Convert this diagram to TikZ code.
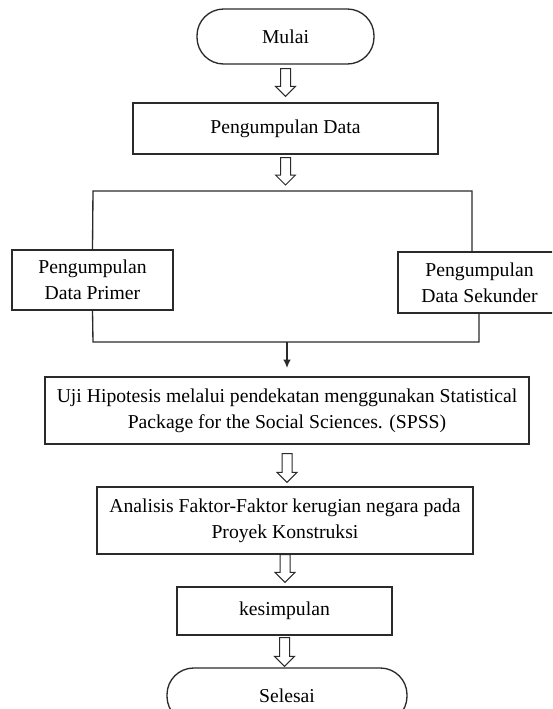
\documentclass[tikz,border=0pt]{standalone}
\usepackage{fontspec}
\setmainfont{Liberation Serif}
\usetikzlibrary{calc,arrows.meta}
\definecolor{linec}{HTML}{2A2A2A}
\newcommand\blockarrow[2]{\draw[blk] let \p1=(#1), \p2=(#2) in
  (\x1-3pt,\y1) -- (\x1+3pt,\y1) -- (\x1+3pt,\y2+6pt) -- (\x1+6pt,\y2+6pt) --
  (\x1,\y2) -- (\x1-6pt,\y2+6pt) -- (\x1-3pt,\y2+6pt) -- cycle;}
\begin{document}
\begin{tikzpicture}[x=0.6pt,y=-0.6pt,
  box/.style={draw=linec, line width=0.8pt, rectangle, align=center, inner sep=0pt,
    font=\fontsize{11.8}{15.6}\selectfont},
  term/.style={box, rounded corners=16pt},
  conn/.style={draw=linec, line width=0.8pt},
  blk/.style={draw=linec, line width=0.6pt, fill=white, line join=miter}]
\useasboundingbox (0,0) rectangle (552,709);
\fill[white] (0,0) rectangle (552,709);
\clip (0,0) rectangle (552,709);

\node[term, minimum width=106.2pt, minimum height=33pt] (mulai) at (285.5,36.5) {Mulai};
\node[box, minimum width=183pt, minimum height=30.6pt] (pd) at (285.5,128.5) {Pengumpulan Data};
\coordinate (tl) at (93,191);
\coordinate (tr) at (472,191);
\coordinate (tm) at (285.5,191);
\node[box, minimum width=96.6pt, minimum height=36pt] (prim) at (92.5,280) {Pengumpulan\\Data Primer};
\node[box, minimum width=106.2pt, minimum height=36.6pt] (sek) at (486.5,282.5)
  {Pengumpulan\hspace*{8.4pt}\\Data Sekunder\hspace*{8.4pt}};
\coordinate (bl) at (93,342);
\coordinate (br) at (479,342);
\coordinate (bm) at (287,342);
\node[box, minimum width=290.4pt, minimum height=40.2pt] (spss) at (287,410.5)
  {Uji Hipotesis melalui pendekatan menggunakan Statistical\\Package for the Social Sciences. (SPSS)};
\node[box, minimum width=225.6pt, minimum height=40.2pt] (ana) at (285,520.5)
  {Analisis Faktor-Faktor kerugian negara pada\\Proyek Konstruksi};
\node[box, minimum width=129pt, minimum height=28.8pt] (kes) at (284.5,611) {kesimpulan};
\node[term, minimum width=144pt, minimum height=33pt] (sel) at (287,695.5) {Selesai};

\draw[conn] (prim.north) -- (tl) -- (tr) -- (tr |- sek.north);
\draw[conn] (prim.south) -- (bl) -- (br) -- (br |- sek.south);
\draw[conn, -{Latex[length=5pt,width=4.5pt]}, shorten >=5pt] (bm) -- (bm |- spss.north);

\blockarrow{[yshift=-2.4pt]mulai.south}{[yshift=3.6pt]pd.north}
\blockarrow{[yshift=-1.8pt]pd.south}{[yshift=3.6pt]tm}
\blockarrow{[yshift=-5.4pt]spss.south}{[yshift=2.4pt]ana.north}
\blockarrow{ana.south}{[yshift=2.4pt]kes.north}
\blockarrow{[yshift=-1.2pt]kes.south}{[yshift=0.6pt]sel.north}
\end{tikzpicture}
\end{document}
